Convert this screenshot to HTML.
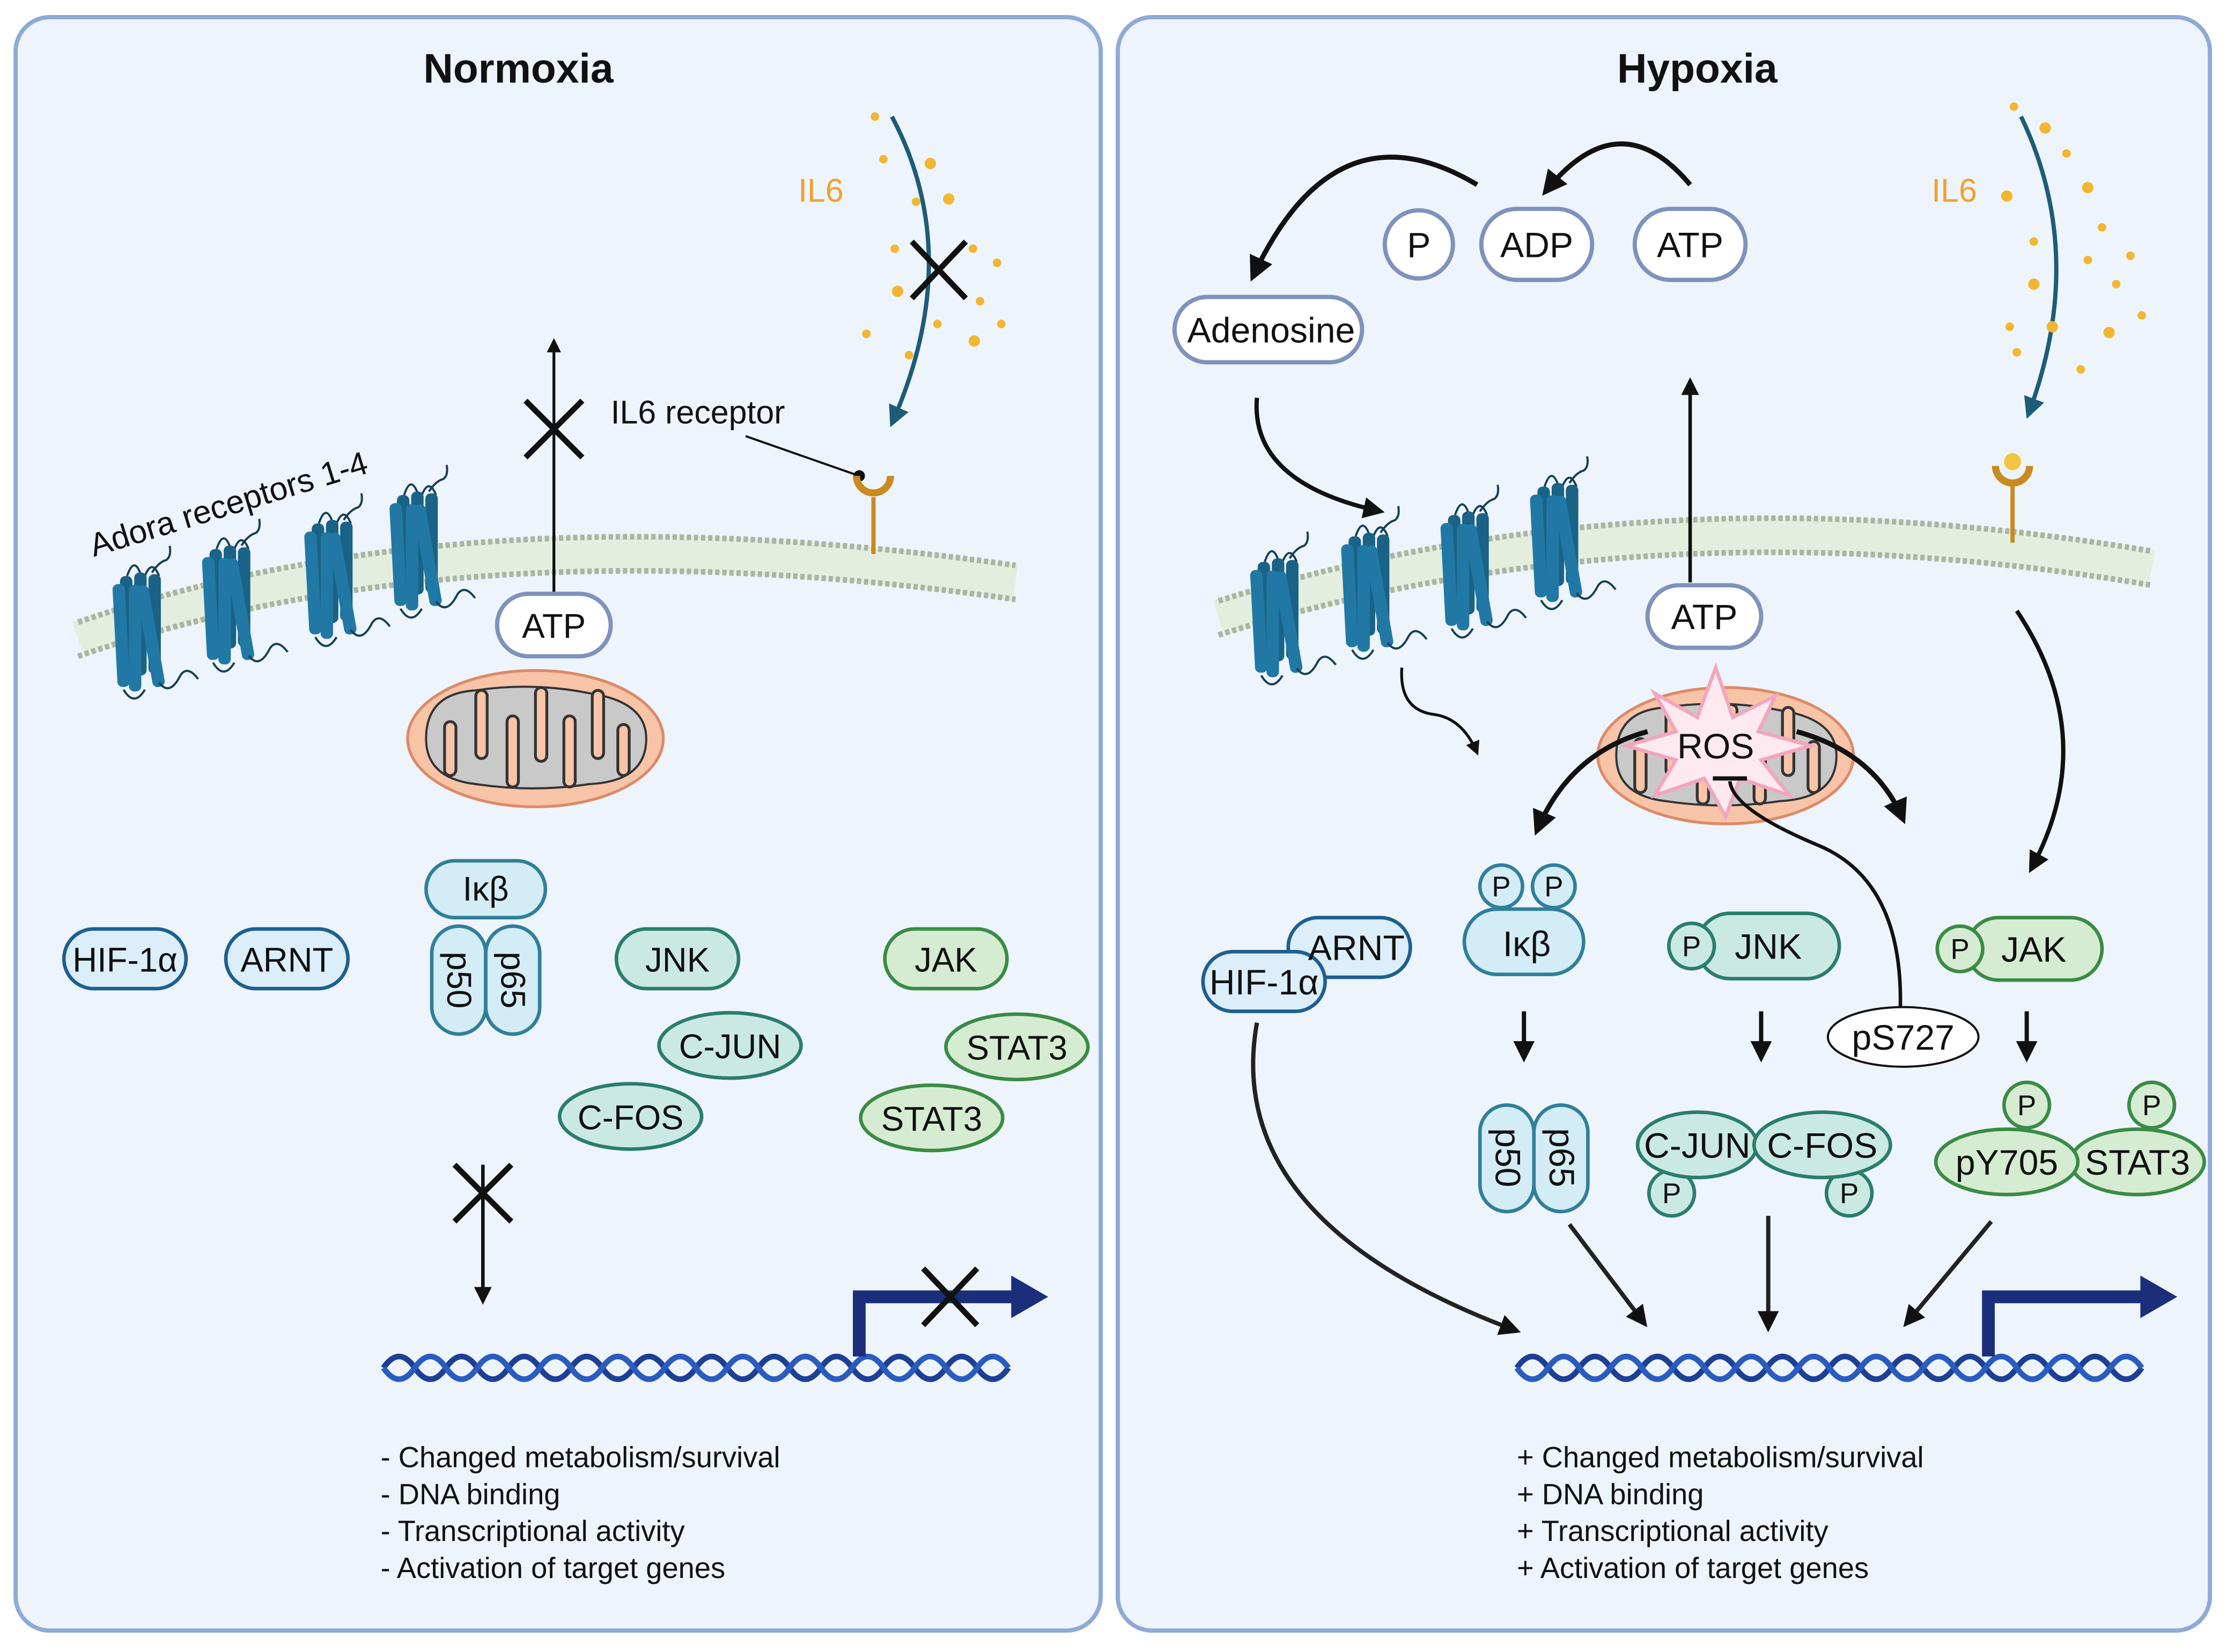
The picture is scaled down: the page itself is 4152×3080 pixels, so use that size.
<!DOCTYPE html>
<html><head><meta charset="utf-8"><style>
html,body{margin:0;padding:0;background:#fff;}
svg{display:block;}
text{font-family:"Liberation Sans",sans-serif;fill:#111;}
</style></head><body>
<svg width="4152" height="3080" viewBox="0 0 1568 1163" xmlns="http://www.w3.org/2000/svg">
<defs>
<marker id="ah" viewBox="0 0 10 10" refX="8" refY="5" markerWidth="5" markerHeight="5" orient="auto"><path d="M0,0 L10,5 L0,10 z" fill="#111"/></marker>
<marker id="ahb" viewBox="0 0 10 10" refX="8" refY="5" markerWidth="5" markerHeight="5" orient="auto"><path d="M0,0 L10,5 L0,10 z" fill="#1d5c78"/></marker>
<g id="rec">
 <path d="M-6,-30 q4,-12 8,0 M4,-30 q4,-10 8,0 M8,-32 q4,-6 8,-7 q3,-2 2,-8" fill="none" stroke="#163f55" stroke-width="1.2"/>
 <rect x="-10" y="-30" width="7" height="55" rx="3" fill="#1a6286"/>
 <rect x="-2" y="-32" width="7" height="58" rx="3" fill="#1a6286"/>
 <rect x="6" y="-31" width="7" height="56" rx="3" fill="#1a6286"/>
 <rect x="-13" y="-26" width="7" height="58" rx="3" fill="#2178a4" transform="rotate(-3)"/>
 <rect x="-5" y="-25" width="7" height="60" rx="3" fill="#2178a4"/>
 <rect x="3" y="-25" width="7" height="58" rx="3" fill="#2178a4" transform="rotate(-10 6 0)"/>
 <path d="M-8,34 q6,10 12,0 M12,30 q6,8 12,-4 q4,-6 10,2" fill="none" stroke="#163f55" stroke-width="1.2"/>
</g>
<g id="mito">
 <ellipse cx="0" cy="0" rx="90" ry="48" fill="#f7c4a7" stroke="#dc8a69" stroke-width="2"/>
 <path d="M-77,0 q0,-32 35,-34 q40,-6 80,2 q40,6 40,32 q0,30 -40,32 q-40,6 -80,0 q-35,-4 -35,-32z" fill="#c9c9c9" stroke="#333" stroke-width="1.5"/>
 <g stroke-linecap="round">
 <path d="M-60,22 v-30 M-38,-30 v40 M-16,30 v-42 M4,-32 v44 M24,30 v-42 M44,-30 v40 M62,22 v-28" stroke="#333" stroke-width="10"/>
 <path d="M-60,22 v-30 M-38,-30 v40 M-16,30 v-42 M4,-32 v44 M24,30 v-42 M44,-30 v40 M62,22 v-28" stroke="#f7c4a7" stroke-width="6"/>
 </g>
</g>
</defs>
<rect width="1568" height="1163" fill="#fff"/>
<rect x="11" y="12" width="764" height="1136" rx="24" fill="#eef4fb" stroke="#8eaad6" stroke-width="3"/>
<rect x="787" y="12" width="769" height="1136" rx="24" fill="#eef4fb" stroke="#8eaad6" stroke-width="3"/>
<text x="365" y="58" font-size="29" font-weight="bold" text-anchor="middle">Normoxia</text>
<text x="1195" y="58" font-size="29" font-weight="bold" text-anchor="middle">Hypoxia</text>

<!-- LEFT membrane -->
<path d="M55,450 Q330,355 715,410" fill="none" stroke="#e4eedf" stroke-width="26"/>
<path d="M55,438 Q330,343 715,398" fill="none" stroke="#a9b5a3" stroke-width="4" stroke-dasharray="3 2"/>
<path d="M55,462 Q330,367 715,422" fill="none" stroke="#a9b5a3" stroke-width="4" stroke-dasharray="3 2"/>
<use href="#rec" transform="translate(97,443) scale(1.25)"/>
<use href="#rec" transform="translate(160,424) scale(1.25)"/>
<use href="#rec" transform="translate(232,406) scale(1.25)"/>
<use href="#rec" transform="translate(292,386) scale(1.25)"/>
<text x="66" y="392" font-size="23" transform="rotate(-17 66 392)">Adora receptors 1-4</text>
<!-- ATP up arrow -->
<line x1="390" y1="420" x2="390" y2="240" stroke="#111" stroke-width="2" marker-end="url(#ah)"/>
<path d="M370,282 L410,322 M410,282 L370,322" stroke="#111" stroke-width="4"/>
<rect x="350" y="418" width="80" height="44" rx="22" fill="#fff" stroke="#7f92bd" stroke-width="3"/>
<text x="390" y="449" font-size="24" text-anchor="middle">ATP</text>
<!-- IL6 -->
<text x="430" y="298" font-size="23">IL6 receptor</text>
<line x1="525" y1="307" x2="605" y2="335" stroke="#111" stroke-width="1.5"/>
<circle cx="605" cy="335" r="4" fill="#111"/>
<line x1="615" y1="350" x2="615" y2="390" stroke="#c98a20" stroke-width="3"/>
<path d="M603,335 a12,12 0 0 0 24,0" fill="none" stroke="#c98a20" stroke-width="5"/>
<text x="562" y="142" font-size="23" style="fill:#f0a030">IL6</text>
<path d="M628,82 Q680,180 628,298" fill="none" stroke="#1d5c78" stroke-width="3" marker-end="url(#ahb)"/>
<path d="M642,170 L680,210 M680,170 L642,210" stroke="#111" stroke-width="4"/>
<g fill="#f2b631">
<circle cx="616" cy="82" r="3"/><circle cx="622" cy="112" r="3"/><circle cx="655" cy="115" r="4"/><circle cx="668" cy="140" r="4"/><circle cx="645" cy="142" r="3"/><circle cx="630" cy="175" r="3"/><circle cx="685" cy="175" r="3"/><circle cx="632" cy="205" r="4"/><circle cx="702" cy="185" r="3"/><circle cx="690" cy="212" r="3"/><circle cx="610" cy="235" r="3"/><circle cx="686" cy="240" r="4"/><circle cx="705" cy="228" r="3"/><circle cx="660" cy="228" r="3"/><circle cx="640" cy="250" r="3"/>
</g>
<use href="#mito" transform="translate(377,520)"/>
<!-- left proteins -->
<g stroke-width="2.5">
<rect x="300" y="606" width="84" height="40" rx="20" fill="#d4ecf5" stroke="#2f7f9a"/>
<rect x="304" y="652" width="38" height="76" rx="19" fill="#d4ecf5" stroke="#2f7f9a"/>
<rect x="342" y="652" width="38" height="76" rx="19" fill="#d4ecf5" stroke="#2f7f9a"/>
<rect x="45" y="654" width="86" height="42" rx="21" fill="#dceefa" stroke="#1d5f90"/>
<rect x="159" y="654" width="86" height="42" rx="21" fill="#dceefa" stroke="#1d5f90"/>
<rect x="434" y="654" width="86" height="42" rx="21" fill="#cbe9e3" stroke="#2a7d6c"/>
<ellipse cx="514" cy="736" rx="50" ry="23" fill="#cbe9e3" stroke="#2a7d6c"/>
<ellipse cx="444" cy="786" rx="50" ry="23" fill="#cbe9e3" stroke="#2a7d6c"/>
<rect x="623" y="654" width="86" height="42" rx="21" fill="#d6ecd2" stroke="#3a8b45"/>
<ellipse cx="716" cy="737" rx="50" ry="23" fill="#d6ecd2" stroke="#3a8b45"/>
<ellipse cx="656" cy="787" rx="50" ry="23" fill="#d6ecd2" stroke="#3a8b45"/>
</g>
<g font-size="24" text-anchor="middle">
<text x="342" y="634">Iκβ</text>
<text x="88" y="684">HIF-1α</text>
<text x="202" y="684">ARNT</text>
<text x="477" y="684">JNK</text>
<text x="514" y="745">C-JUN</text>
<text x="444" y="795">C-FOS</text>
<text x="666" y="684">JAK</text>
<text x="716" y="746">STAT3</text>
<text x="656" y="796">STAT3</text>
<text transform="translate(315,690) rotate(90)">p50</text>
<text transform="translate(353,690) rotate(90)">p65</text>
</g>
<line x1="340" y1="820" x2="340" y2="916" stroke="#111" stroke-width="2.5" marker-end="url(#ah)"/>
<path d="M320,820 L360,860 M360,820 L320,860" stroke="#111" stroke-width="4"/>
<!-- DNA left -->
<g fill="none" stroke-width="4">
<path d="M270,963 q11,-16 22,0 t22,0 t22,0 t22,0 t22,0 t22,0 t22,0 t22,0 t22,0 t22,0 t22,0 t22,0 t22,0 t22,0 t22,0 t22,0 t22,0 t22,0 t22,0 t22,0" stroke="#1d3f94"/>
<path d="M270,963 q11,16 22,0 t22,0 t22,0 t22,0 t22,0 t22,0 t22,0 t22,0 t22,0 t22,0 t22,0 t22,0 t22,0 t22,0 t22,0 t22,0 t22,0 t22,0 t22,0 t22,0" stroke="#2a5cc0"/>
</g>
<path d="M605,955 V913 H715" fill="none" stroke="#1a2e7a" stroke-width="9"/>
<path d="M712,898 L738,913 L712,928z" fill="#1a2e7a"/>
<path d="M650,893 L688,933 M688,893 L650,933" stroke="#111" stroke-width="4"/>
<g font-size="20.5">
<text x="268" y="1033">- Changed metabolism/survival</text>
<text x="268" y="1059">- DNA binding</text>
<text x="268" y="1085">- Transcriptional activity</text>
<text x="268" y="1111">- Activation of target genes</text>
</g>

<!-- RIGHT -->
<path d="M858,435 Q1160,340 1515,400" fill="none" stroke="#e4eedf" stroke-width="26"/>
<path d="M858,423 Q1160,328 1515,388" fill="none" stroke="#a9b5a3" stroke-width="4" stroke-dasharray="3 2"/>
<path d="M858,447 Q1160,352 1515,412" fill="none" stroke="#a9b5a3" stroke-width="4" stroke-dasharray="3 2"/>
<use href="#rec" transform="translate(898,433) scale(1.25)"/>
<use href="#rec" transform="translate(962,415) scale(1.25)"/>
<use href="#rec" transform="translate(1032,400) scale(1.25)"/>
<use href="#rec" transform="translate(1095,380) scale(1.25)"/>
<!-- ATP cycle -->
<path d="M1190,130 Q1140,70 1088,135" fill="none" stroke="#111" stroke-width="3.5" marker-end="url(#ah)"/>
<path d="M1040,130 Q940,70 882,195" fill="none" stroke="#111" stroke-width="3.5" marker-end="url(#ah)"/>
<g stroke="#7f92bd" stroke-width="3" fill="#fff">
<rect x="975" y="148" width="48" height="48" rx="24"/>
<rect x="1043" y="147" width="78" height="50" rx="25"/>
<rect x="1151" y="147" width="78" height="50" rx="25"/>
<rect x="827" y="209" width="132" height="46" rx="23"/>
<rect x="1160" y="412" width="80" height="44" rx="22"/>
</g>
<g font-size="25" text-anchor="middle">
<text x="999" y="181">P</text><text x="1082" y="181">ADP</text><text x="1190" y="181">ATP</text>
<text x="895" y="241">Adenosine</text><text x="1200" y="443">ATP</text>
</g>
<path d="M885,280 Q880,340 972,360" fill="none" stroke="#111" stroke-width="3" marker-end="url(#ah)"/>
<line x1="1190" y1="410" x2="1190" y2="268" stroke="#111" stroke-width="2.5" marker-end="url(#ah)"/>
<!-- IL6 right -->
<text x="1360" y="142" font-size="23" style="fill:#f0a030">IL6</text>
<path d="M1423,82 Q1470,180 1428,292" fill="none" stroke="#1d5c78" stroke-width="3" marker-end="url(#ahb)"/>
<g fill="#f2b631">
<circle cx="1418" cy="75" r="3"/><circle cx="1440" cy="90" r="4"/><circle cx="1455" cy="108" r="3"/><circle cx="1470" cy="132" r="4"/><circle cx="1413" cy="138" r="4"/><circle cx="1480" cy="160" r="3"/><circle cx="1432" cy="170" r="3"/><circle cx="1470" cy="183" r="3"/><circle cx="1500" cy="180" r="3"/><circle cx="1432" cy="200" r="4"/><circle cx="1490" cy="200" r="3"/><circle cx="1415" cy="230" r="3"/><circle cx="1445" cy="230" r="4"/><circle cx="1508" cy="222" r="3"/><circle cx="1485" cy="234" r="4"/><circle cx="1420" cy="248" r="3"/><circle cx="1465" cy="260" r="3"/>
</g>
<line x1="1417" y1="340" x2="1417" y2="382" stroke="#c98a20" stroke-width="3"/>
<path d="M1405,328 a12,12 0 0 0 24,0" fill="none" stroke="#c98a20" stroke-width="5"/>
<circle cx="1417" cy="325" r="6" fill="#f2c540"/>
<use href="#mito" transform="translate(1215,532)"/>
<path d="M1208,470 L1220,505 L1250,490 L1238,515 L1275,525 L1240,535 L1260,560 L1225,548 L1215,575 L1200,548 L1165,560 L1180,535 L1145,525 L1180,515 L1165,488 L1195,505z" fill="#fde9ef" stroke="#f2a6bd" stroke-width="2.5"/>
<text x="1208" y="534" font-size="25" text-anchor="middle">ROS</text>
<path d="M1160,515 Q1105,530 1082,585" fill="none" stroke="#111" stroke-width="3.5" marker-end="url(#ah)"/>
<path d="M1265,515 Q1320,530 1340,577" fill="none" stroke="#111" stroke-width="3.5" marker-end="url(#ah)"/>
<path d="M1338,710 Q1340,620 1280,595 Q1220,570 1218,550" fill="none" stroke="#111" stroke-width="2.5"/>
<line x1="1206" y1="548" x2="1230" y2="548" stroke="#111" stroke-width="3"/>
<path d="M987,470 Q985,500 1010,503 Q1030,506 1040,530" fill="none" stroke="#111" stroke-width="2" marker-end="url(#ah)"/>
<path d="M1420,430 Q1480,520 1430,612" fill="none" stroke="#111" stroke-width="3" marker-end="url(#ah)"/>
<!-- right proteins -->
<g stroke-width="2.5">
<rect x="907" y="646" width="86" height="42" rx="21" fill="#dceefa" stroke="#1d5f90"/>
<rect x="847" y="670" width="86" height="42" rx="21" fill="#dceefa" stroke="#1d5f90"/>
<circle cx="1057" cy="624" r="15" fill="#d4ecf5" stroke="#2f7f9a"/>
<circle cx="1094" cy="624" r="15" fill="#d4ecf5" stroke="#2f7f9a"/>
<rect x="1031" y="640" width="84" height="46" rx="23" fill="#d4ecf5" stroke="#2f7f9a"/>
<rect x="1042" y="778" width="38" height="75" rx="19" fill="#d4ecf5" stroke="#2f7f9a"/>
<rect x="1080" y="778" width="38" height="75" rx="19" fill="#d4ecf5" stroke="#2f7f9a"/>
<rect x="1195" y="643" width="100" height="46" rx="23" fill="#cbe9e3" stroke="#2a7d6c"/>
<circle cx="1191" cy="666" r="16" fill="#cbe9e3" stroke="#2a7d6c"/>
<circle cx="1177" cy="840" r="16" fill="#cbe9e3" stroke="#2a7d6c"/>
<circle cx="1302" cy="840" r="16" fill="#cbe9e3" stroke="#2a7d6c"/>
<ellipse cx="1195" cy="806" rx="42" ry="23" fill="#cbe9e3" stroke="#2a7d6c"/>
<ellipse cx="1283" cy="806" rx="48" ry="23" fill="#cbe9e3" stroke="#2a7d6c"/>
<rect x="1385" y="646" width="95" height="44" rx="22" fill="#d6ecd2" stroke="#3a8b45"/>
<circle cx="1380" cy="668" r="16" fill="#d6ecd2" stroke="#3a8b45"/>
<circle cx="1427" cy="778" r="16" fill="#d6ecd2" stroke="#3a8b45"/>
<circle cx="1515" cy="778" r="16" fill="#d6ecd2" stroke="#3a8b45"/>
<ellipse cx="1505" cy="818" rx="47" ry="23" fill="#d6ecd2" stroke="#3a8b45"/>
<ellipse cx="1413" cy="818" rx="50" ry="23" fill="#d6ecd2" stroke="#3a8b45"/>
<ellipse cx="1340" cy="730" rx="53" ry="21" fill="#fff" stroke="#111" stroke-width="1.5"/>
</g>
<g font-size="25" text-anchor="middle">
<text x="955" y="676">ARNT</text>
<text x="890" y="700">HIF-1α</text>
<text x="1075" y="673">Iκβ</text>
<text x="1245" y="675">JNK</text>
<text x="1432" y="677">JAK</text>
<text x="1195" y="815">C-JUN</text>
<text x="1283" y="815">C-FOS</text>
<text x="1413" y="827">pY705</text>
<text x="1505" y="827">STAT3</text>
<text x="1340" y="739">pS727</text>
<text transform="translate(1053,815) rotate(90)">p50</text>
<text transform="translate(1091,815) rotate(90)">p65</text>
</g>
<g font-size="20" text-anchor="middle">
<text x="1057" y="631">P</text><text x="1094" y="631">P</text><text x="1191" y="673">P</text>
<text x="1177" y="847">P</text><text x="1302" y="847">P</text><text x="1380" y="675">P</text>
<text x="1427" y="785">P</text><text x="1515" y="785">P</text>
</g>
<g stroke="#111" stroke-width="3">
<line x1="1073" y1="712" x2="1073" y2="745" marker-end="url(#ah)"/>
<line x1="1240" y1="712" x2="1240" y2="745" marker-end="url(#ah)"/>
<line x1="1427" y1="712" x2="1427" y2="745" marker-end="url(#ah)"/>
</g>
<g fill="none" stroke="#222" stroke-width="3">
<path d="M885,720 Q860,860 1068,937" marker-end="url(#ah)"/>
<path d="M1105,862 L1158,932" marker-end="url(#ah)"/>
<path d="M1245,856 L1245,935" marker-end="url(#ah)"/>
<path d="M1402,860 L1342,932" marker-end="url(#ah)"/>
</g>
<g fill="none" stroke-width="4">
<path d="M1068,963 q11,-16 22,0 t22,0 t22,0 t22,0 t22,0 t22,0 t22,0 t22,0 t22,0 t22,0 t22,0 t22,0 t22,0 t22,0 t22,0 t22,0 t22,0 t22,0 t22,0 t22,0" stroke="#1d3f94"/>
<path d="M1068,963 q11,16 22,0 t22,0 t22,0 t22,0 t22,0 t22,0 t22,0 t22,0 t22,0 t22,0 t22,0 t22,0 t22,0 t22,0 t22,0 t22,0 t22,0 t22,0 t22,0 t22,0" stroke="#2a5cc0"/>
</g>
<path d="M1400,955 V913 H1510" fill="none" stroke="#1a2e7a" stroke-width="9"/>
<path d="M1507,898 L1533,913 L1507,928z" fill="#1a2e7a"/>
<g font-size="20.5">
<text x="1068" y="1033">+ Changed metabolism/survival</text>
<text x="1068" y="1059">+ DNA binding</text>
<text x="1068" y="1085">+ Transcriptional activity</text>
<text x="1068" y="1111">+ Activation of target genes</text>
</g>
</svg>
</body></html>
